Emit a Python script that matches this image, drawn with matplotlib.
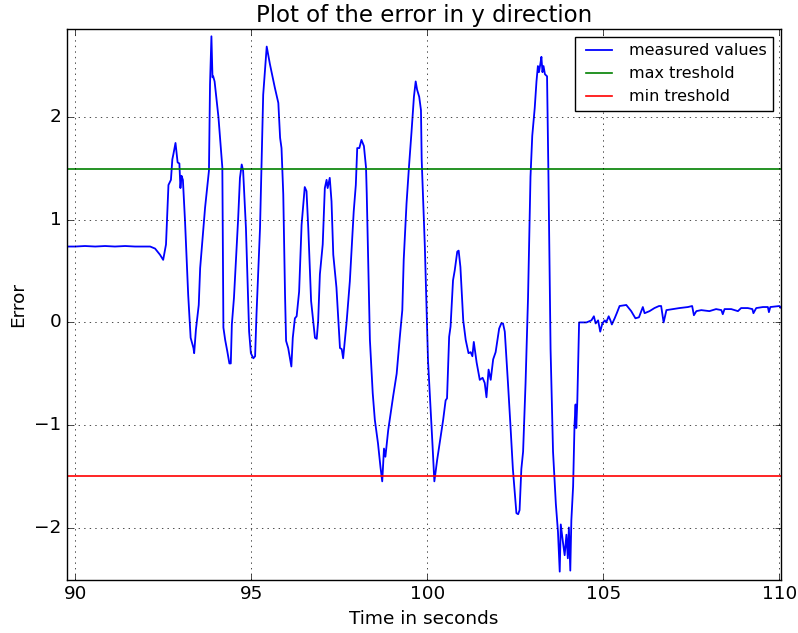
import matplotlib
matplotlib.use('Agg')
import matplotlib.pyplot as plt
import numpy as np

# time stamps (s) and measured error
t = [89.77, 90.00, 90.28, 90.57, 90.85, 91.13, 91.42, 91.70, 91.99, 92.13,
     92.27, 92.41, 92.50, 92.58, 92.65, 92.72, 92.76, 92.79, 92.85, 92.91,
     92.96, 92.99, 93.02, 93.06, 93.12, 93.21, 93.28, 93.36, 93.38, 93.43,
     93.51, 93.55, 93.69, 93.80, 93.83, 93.87, 93.90, 93.92, 93.96, 94.07,
     94.18, 94.21, 94.26, 94.32, 94.38, 94.42, 94.45, 94.51, 94.63, 94.68,
     94.73, 94.77, 94.85, 94.94, 94.99, 95.06, 95.11, 95.15, 95.25, 95.34,
     95.44, 95.53, 95.67, 95.77, 95.82, 95.86, 95.91, 95.96, 95.99, 96.05,
     96.14, 96.18, 96.24, 96.29, 96.36, 96.43, 96.52, 96.57, 96.62, 96.70,
     96.76, 96.81, 96.86, 96.90, 96.95, 97.03, 97.09, 97.14, 97.17, 97.23,
     97.28, 97.33, 97.42, 97.52, 97.57, 97.61, 97.71, 97.80, 97.91, 97.97,
     98.01, 98.07, 98.13, 98.20, 98.26, 98.28, 98.32, 98.37, 98.45, 98.51,
     98.60, 98.67, 98.72, 98.77, 98.81, 98.89, 99.03, 99.13, 99.22, 99.29,
     99.33, 99.41, 99.48, 99.55, 99.62, 99.67, 99.71, 99.77, 99.82, 99.84,
     99.93, 100.02, 100.09, 100.15, 100.20, 100.28, 100.35, 100.45, 100.52, 100.56,
     100.62, 100.66, 100.73, 100.78, 100.85, 100.89, 100.94, 101.02, 101.09, 101.17,
     101.23, 101.28, 101.32, 101.40, 101.49, 101.57, 101.63, 101.68, 101.74, 101.80,
     101.87, 101.94, 102.04, 102.10, 102.15, 102.20, 102.29, 102.36, 102.43, 102.53,
     102.58, 102.62, 102.67, 102.72, 102.79, 102.86, 102.93, 102.98, 103.05, 103.10,
     103.14, 103.17, 103.21, 103.24, 103.27, 103.30, 103.34, 103.40, 103.44, 103.50,
     103.57, 103.65, 103.71, 103.76, 103.79, 103.85, 103.90, 103.95, 103.99, 104.02,
     104.06, 104.09, 104.14, 104.18, 104.21, 104.23, 104.26, 104.28, 104.31, 104.52,
     104.66, 104.73, 104.78, 104.85, 104.91, 104.97, 105.04, 105.08, 105.15, 105.20,
     105.24, 105.32, 105.38, 105.46, 105.65, 105.79, 105.91, 106.01, 106.12, 106.17,
     106.31, 106.45, 106.58, 106.64, 106.71, 106.79, 106.97, 107.16, 107.40, 107.52,
     107.57, 107.64, 107.78, 108.01, 108.20, 108.35, 108.39, 108.44, 108.63, 108.82,
     108.91, 109.10, 109.23, 109.26, 109.34, 109.53, 109.67, 109.70, 109.74, 110.00,
     110.05]
err = [0.74, 0.74, 0.745, 0.74, 0.745, 0.74, 0.745, 0.74, 0.74, 0.74,
       0.72, 0.66, 0.61, 0.76, 1.34, 1.39, 1.59, 1.64, 1.75, 1.56,
       1.55, 1.31, 1.43, 1.39, 0.99, 0.27, -0.15, -0.25, -0.30, -0.07,
       0.17, 0.53, 1.12, 1.48, 2.32, 2.79, 2.39, 2.40, 2.35, 2.00,
       1.51, -0.05, -0.17, -0.28, -0.40, -0.40, -0.02, 0.24, 1.02, 1.41,
       1.54, 1.48, 0.92, -0.09, -0.30, -0.35, -0.33, 0.08, 0.92, 2.22,
       2.69, 2.52, 2.29, 2.14, 1.80, 1.70, 1.25, 0.27, -0.18, -0.25,
       -0.43, -0.15, 0.04, 0.06, 0.30, 0.95, 1.32, 1.28, 0.92, 0.21,
       0.01, -0.15, -0.16, 0.01, 0.47, 0.76, 1.31, 1.39, 1.31, 1.41,
       1.18, 0.66, 0.34, -0.25, -0.26, -0.35, 0.01, 0.40, 1.08, 1.34,
       1.70, 1.70, 1.78, 1.72, 1.51, 1.26, 0.61, -0.17, -0.69, -0.95,
       -1.18, -1.41, -1.55, -1.23, -1.31, -1.05, -0.72, -0.50, -0.14, 0.12,
       0.61, 1.16, 1.52, 1.85, 2.20, 2.35, 2.27, 2.20, 2.07, 1.59,
       0.74, -0.37, -0.82, -1.21, -1.55, -1.34, -1.18, -0.95, -0.76, -0.74,
       -0.14, -0.04, 0.41, 0.51, 0.69, 0.70, 0.54, 0.02, -0.17, -0.30,
       -0.29, -0.33, -0.19, -0.39, -0.56, -0.54, -0.59, -0.73, -0.46, -0.56,
       -0.36, -0.29, -0.06, -0.01, -0.01, -0.09, -0.59, -1.00, -1.43, -1.86,
       -1.87, -1.83, -1.43, -1.26, -0.59, 0.24, 1.42, 1.82, 2.09, 2.35,
       2.50, 2.44, 2.52, 2.59, 2.44, 2.50, 2.42, 2.40, 1.42, -0.26,
       -1.26, -1.77, -2.04, -2.43, -1.97, -2.14, -2.27, -2.07, -2.30, -2.00,
       -2.42, -1.93, -1.60, -1.00, -0.80, -1.03, -0.76, -0.46, 0.00, 0.00,
       0.02, 0.06, -0.01, 0.02, -0.09, -0.01, 0.02, 0.00, 0.06, 0.02,
       -0.02, 0.04, 0.09, 0.16, 0.17, 0.11, 0.04, 0.05, 0.15, 0.09,
       0.11, 0.14, 0.16, 0.16, 0.00, 0.12, 0.13, 0.14, 0.15, 0.16,
       0.07, 0.11, 0.12, 0.11, 0.13, 0.12, 0.08, 0.13, 0.13, 0.11,
       0.14, 0.14, 0.13, 0.09, 0.14, 0.15, 0.15, 0.10, 0.15, 0.16,
       0.14]
max_thr = 1.5
min_thr = -1.5

plt.style.use('classic')
fig = plt.figure(figsize=(7.98, 6.33), dpi=100, facecolor='white')
ax = fig.add_axes([0.084, 0.084, 0.895, 0.870])
ax.plot(t, err, 'b', lw=1.3, label='measured values')
ax.axhline(max_thr, color='g', lw=1.2, label='max treshold')
ax.axhline(min_thr, color='r', lw=1.2, label='min treshold')
ax.set_xlim(t[0], t[-1])
ax.set_ylim(-2.51, 2.86)
ax.set_xticks([90, 95, 100, 105, 110])
ax.set_yticks([-2, -1, 0, 1, 2])
ax.tick_params(labelsize=13.3)
ax.grid(True)
ax.set_xlabel('Time in seconds', fontsize=13.3)
ax.set_ylabel('Error', fontsize=13.3)
ax.set_title('Plot of the error in y direction', fontsize=16.5)
ax.legend(loc='upper right', fontsize=11.5, handlelength=2.2,
          borderaxespad=0.5, numpoints=2)
plt.savefig('out.png', dpi=100, facecolor='white')
